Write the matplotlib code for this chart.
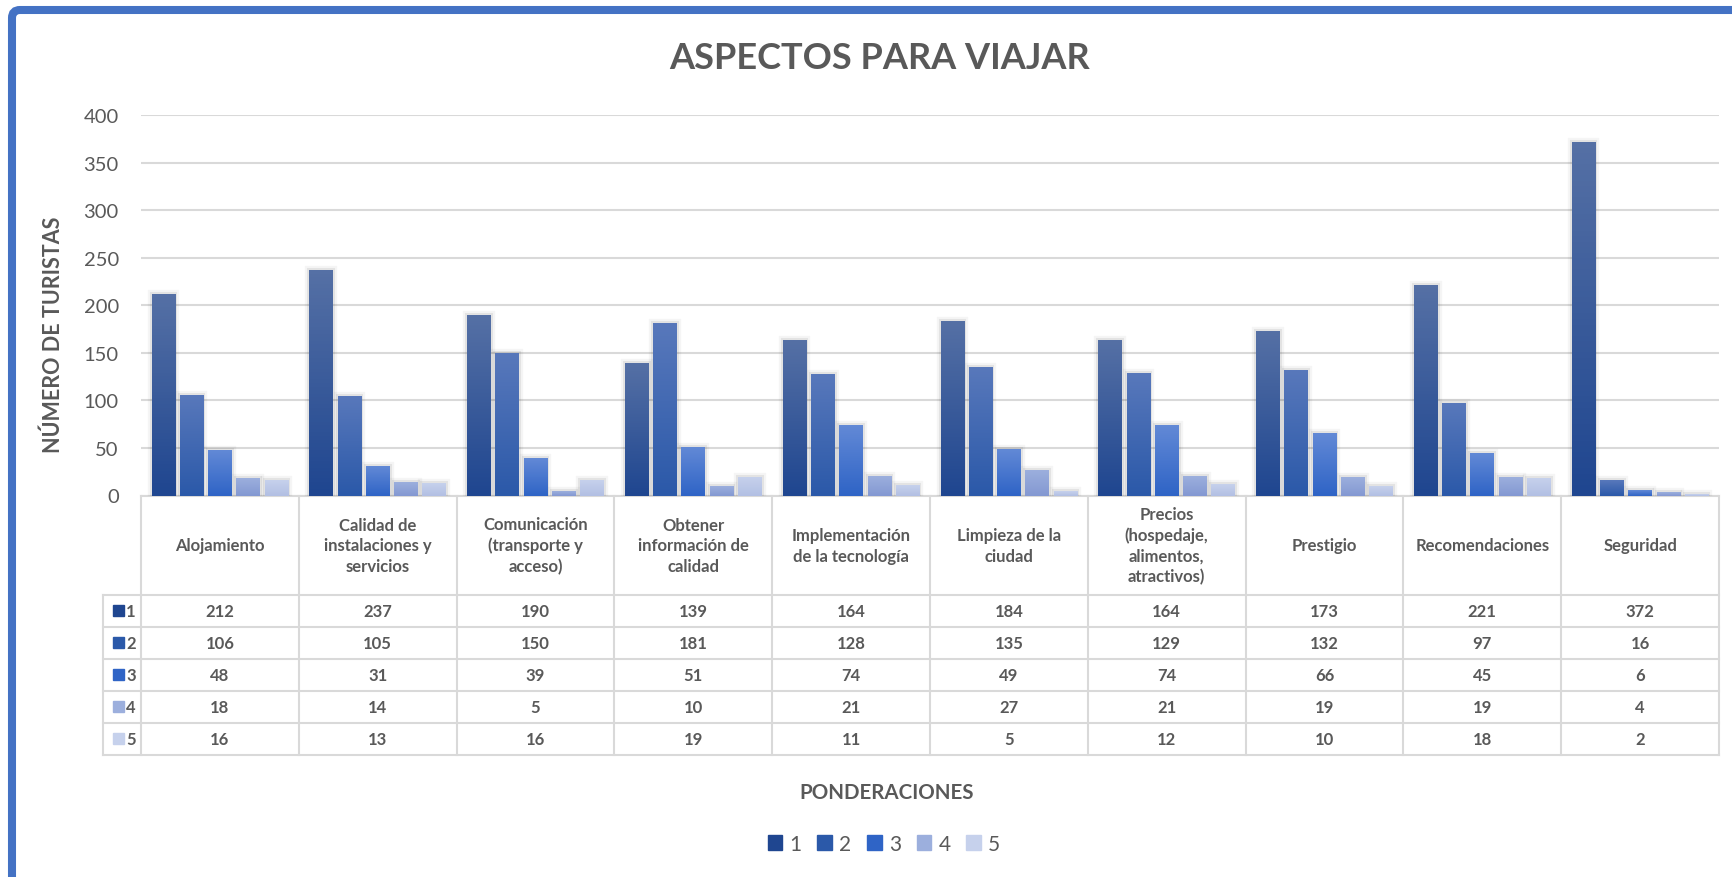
import numpy as np
import matplotlib.pyplot as plt
import matplotlib.patheffects as pe
from matplotlib.colors import LinearSegmentedColormap
from matplotlib.patches import Rectangle, FancyBboxPatch
from matplotlib.transforms import blended_transform_factory

plt.rcParams['font.family'] = ['Lato', 'DejaVu Sans']

# data
categories = ["Alojamiento", "Calidad de\ninstalaciones y\nservicios",
              "Comunicación\n(transporte y\nacceso)", "Obtener\ninformación de\ncalidad",
              "Implementación\nde la tecnología", "Limpieza de la\nciudad",
              "Precios\n(hospedaje,\nalimentos,\natractivos)", "Prestigio",
              "Recomendaciones", "Seguridad"]
series_names = ["1", "2", "3", "4", "5"]
pond_1 = [212, 237, 190, 139, 164, 184, 164, 173, 221, 372]
pond_2 = [106, 105, 150, 181, 128, 135, 129, 132, 97, 16]
pond_3 = [48, 31, 39, 51, 74, 49, 74, 66, 45, 6]
pond_4 = [18, 14, 5, 10, 21, 27, 21, 19, 19, 4]
pond_5 = [16, 13, 16, 19, 11, 5, 12, 10, 18, 2]
series = [pond_1, pond_2, pond_3, pond_4, pond_5]

# gradient colours (bottom, top) per series
grad_colors = [("#1f4690", "#5570a5"), ("#2b59a9", "#5878bb"), ("#2f64c6", "#6289d6"),
               ("#8398d2", "#9cafdd"), ("#b2bfe3", "#c6d1ec")]
text_col = "#595959"
grid_col = "#d9d9d9"

W, H = 1732, 878
fig = plt.figure(figsize=(W / 100, H / 100), dpi=100)
base_y, top_y = 496.5, 116.3
ax_left, ax_right = 141, 1719
ax_h = base_y - top_y
ax = fig.add_axes([ax_left / W, (H - base_y) / H, (ax_right - ax_left) / W, ax_h / H])

x = np.arange(len(categories))
step, width = 0.179, 0.15
grad = np.linspace(0, 1, 64).reshape(-1, 1)
shadow = [pe.Stroke(linewidth=6, foreground=(0, 0, 0, 0.04)),
          pe.Stroke(linewidth=3, foreground=(0, 0, 0, 0.07)), pe.Normal()]

for k, vals in enumerate(series):
    bars = ax.bar(x + (k - 2) * step, vals, width, color=grad_colors[k][0],
                  zorder=2, label=series_names[k])
    cmap = LinearSegmentedColormap.from_list("g%d" % k, grad_colors[k])
    for r in bars:
        r.set_path_effects(shadow)
        im = ax.imshow(grad, extent=[r.get_x(), r.get_x() + r.get_width(), 0, r.get_height()],
                       origin='lower', cmap=cmap, aspect='auto', zorder=2.1)
        im.set_clip_path(r)

ax.set_xlim(-0.5, len(categories) - 0.5)
ax.set_ylim(0, 400)
ax.set_yticks(np.arange(0, 401, 50))
ax.set_xticks([])
ax.yaxis.grid(True, color=grid_col, lw=1.5)
ax.set_axisbelow(True)
for s in ax.spines.values():
    s.set_visible(False)
ax.tick_params(axis='y', length=0, pad=16, labelsize=14.5, labelcolor=text_col)

# data table under the plot
tr = blended_transform_factory(ax.transData, ax.transAxes)
def py(p):
    return -(p - base_y) / ax_h

hdr_bot = 596
row_h = (755.7 - hdr_bot) / 5
row_edges = [hdr_bot + i * row_h for i in range(6)]
lab_left = -0.5 - 38 / ((ax_right - ax_left) / len(categories))
lk = dict(color=grid_col, lw=1.5, transform=tr, clip_on=False, zorder=1)

for i in range(len(categories) + 1):
    ax.plot([i - 0.5, i - 0.5], [py(base_y), py(row_edges[-1])], **lk)
for p in row_edges:
    ax.plot([lab_left, len(categories) - 0.5], [py(p), py(p)], **lk)
ax.plot([-0.5, len(categories) - 0.5], [0, 0], **lk)
ax.plot([lab_left, lab_left], [py(row_edges[0]), py(row_edges[-1])], **lk)

tk = dict(color=text_col, fontsize=12, fontweight='bold', ha='center', va='center',
          transform=tr, clip_on=False)
for i, cat in enumerate(categories):
    ax.text(i, py((base_y + hdr_bot) / 2), cat, linespacing=1.35, **tk)
for k, vals in enumerate(series):
    yc = py(row_edges[k] + row_h / 2)
    for i, v in enumerate(vals):
        ax.text(i, yc, str(v), **tk)
    sq = 11 / ax_h
    ax.add_patch(Rectangle((-0.68, yc - sq / 2), 0.07, sq, transform=tr, clip_on=False,
                           color=grad_colors[k][0] if k < 3 else grad_colors[k][1], zorder=3))
    ax.text(-0.565, yc, series_names[k], **tk)

# titles
fig.text(880 / W, 1 - 58.5 / H, "ASPECTOS PARA VIAJAR", ha='center', va='center',
         fontsize=26, fontweight='bold', color=text_col)
fig.text(53 / W, 1 - 335 / H, "NÚMERO DE TURISTAS", rotation=90, ha='center', va='center',
         fontsize=15.5, fontweight='bold', color=text_col)
fig.text(887 / W, 1 - 793 / H, "PONDERACIONES", ha='center', va='center',
         fontsize=14.8, fontweight='bold', color=text_col)

handles = [Rectangle((0, 0), 1, 1, color=c[0] if k < 3 else c[1]) for k, c in enumerate(grad_colors)]
leg = fig.legend(handles, series_names, loc='center', bbox_to_anchor=(884 / W, 1 - 845 / H),
                 ncol=5, frameon=False, fontsize=15, handlelength=0.7, handleheight=0.7,
                 handletextpad=0.35, columnspacing=0.75, labelcolor=text_col)

# blue frame (cropped at right and bottom)
frame = FancyBboxPatch((0.12, -1), 30, 8.67 + 1, boxstyle="round,pad=0,rounding_size=0.08",
                       transform=fig.dpi_scale_trans, fill=False, ec="#4472c4", lw=5.8)
fig.patches.append(frame)

fig.savefig("out.png", dpi=100)
